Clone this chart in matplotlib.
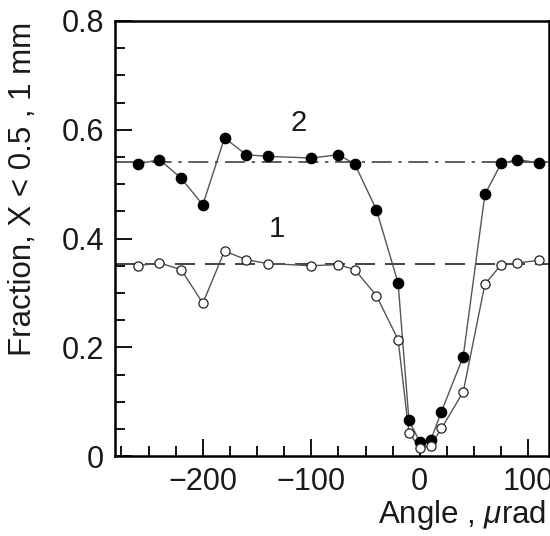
import matplotlib
matplotlib.use("Agg")
import matplotlib.pyplot as plt
from matplotlib.ticker import MultipleLocator

plt.rcParams['font.family'] = ['Liberation Sans', 'DejaVu Sans']
plt.rcParams['mathtext.fontset'] = 'custom'
plt.rcParams['mathtext.it'] = 'Liberation Sans:italic'

# Series 2 (filled circles)
x2 = [-260, -240, -220, -200, -180, -160, -140, -100, -75, -60, -40, -20, -10, 0, 10, 20, 40, 60, 75, 90, 110]
y2 = [0.537, 0.545, 0.511, 0.462, 0.585, 0.554, 0.551, 0.548, 0.554, 0.537, 0.453, 0.318, 0.066, 0.026, 0.029, 0.082, 0.183, 0.481, 0.538, 0.545, 0.539]
# Series 1 (open circles)
x1 = [-260, -240, -220, -200, -180, -160, -140, -100, -75, -60, -40, -20, -10, 0, 10, 20, 40, 60, 75, 90, 110]
y1 = [0.350, 0.355, 0.343, 0.281, 0.377, 0.361, 0.354, 0.350, 0.352, 0.343, 0.295, 0.214, 0.043, 0.015, 0.019, 0.051, 0.118, 0.316, 0.352, 0.355, 0.360]
level2 = 0.540
level1 = 0.354
labels = ["1", "2"]
label_pos = [(-132, 0.418), (-112, 0.613)]

txt_color = '#1a1a1a'

fig = plt.figure(figsize=(5.5, 5.36), dpi=100)
ax = fig.add_axes([0.209, 0.149, 0.789, 0.812])

ax.axhline(level2, color='#444444', lw=1.2, dashes=(12, 4, 2, 4), zorder=1)
ax.axhline(level1, color='#222222', lw=1.2, dashes=(12, 6), zorder=1)

ax.plot(x2, y2, '-', color='#555555', lw=1.0, zorder=2)
ax.plot(x2, y2, 'o', color='black', ms=7.4, zorder=3)
ax.plot(x1, y1, '-', color='#555555', lw=1.0, zorder=2)
ax.plot(x1, y1, 'o', mfc='white', mec='#222222', mew=0.9, ms=6.6, zorder=3)

for t, (tx, ty) in zip(labels, label_pos):
    ax.text(tx, ty, t, fontsize=21, ha='center', va='center', color=txt_color)

ax.set_xlim(-281, 119)
ax.set_ylim(0, 0.8)
ax.xaxis.set_minor_locator(MultipleLocator(25))
ax.yaxis.set_minor_locator(MultipleLocator(0.05))
ax.set_yticks([0, 0.2, 0.4, 0.6, 0.8])
ax.set_yticklabels(['0', '0.2', '0.4', '0.6', '0.8'])
ax.set_xticks([-200, -100, 0, 100])
ax.set_xticklabels(['\u2212200', '\u2212100', '0', '100'])

ax.tick_params(which='both', direction='in', top=False, right=False, labelsize=22,
               width=1.3, labelcolor=txt_color)
ax.tick_params(which='major', length=12, pad=8)
ax.tick_params(which='minor', length=7)
for s in ax.spines.values():
    s.set_linewidth(1.8)

ax.set_ylabel('Fraction, X < 0.5 , 1 mm', fontsize=22.5, color=txt_color)
ax.yaxis.set_label_coords(-0.178, 0.615)
fig.text(0.994, 0.007, 'Angle , $\\mathit{\\mu}$rad', fontsize=22.5, ha='right', va='bottom',
         color=txt_color)

fig.savefig('out.png', dpi=100)
